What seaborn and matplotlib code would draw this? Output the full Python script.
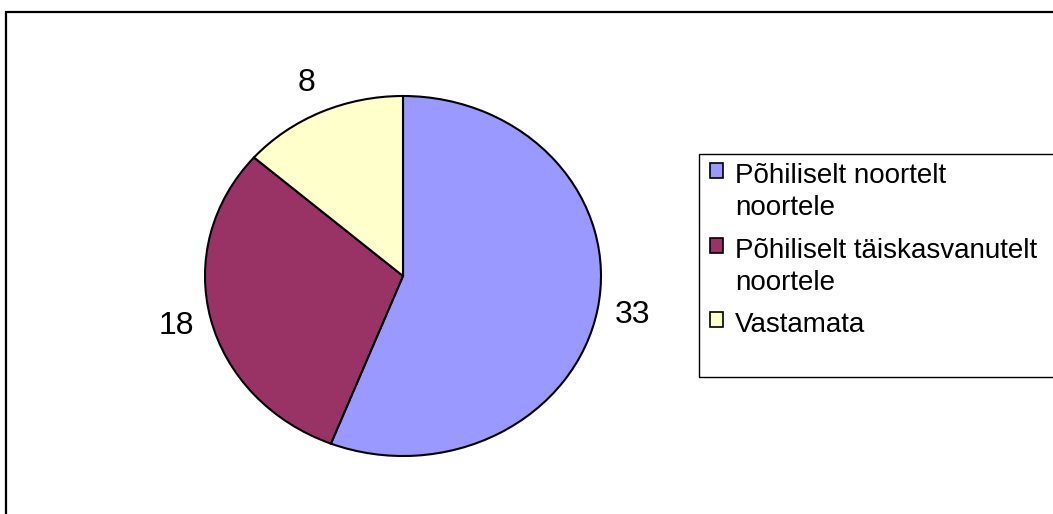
import matplotlib
matplotlib.use("Agg")
import matplotlib.pyplot as plt
from matplotlib.patches import Rectangle
from matplotlib.offsetbox import HPacker
import seaborn as sns

# answers, drawn clockwise from the top
categories = ["Põhiliselt noortelt\nnoortele",
              "Põhiliselt täiskasvanutelt\nnoortele",
              "Vastamata"]
values = [33, 18, 8]
colors = ["#9999FF", "#993366", "#FFFFCC"]

sns.set_theme(style="white")
plt.rcParams["font.family"] = ["Liberation Sans", "DejaVu Sans"]

W, H = 1053, 514
fig = plt.figure(figsize=(W / 100, H / 100), dpi=100)
fig.patch.set_facecolor("white")

# outer chart border (runs off the right and bottom of the picture)
fig.add_artist(Rectangle((6 / W, -0.2), 1.2, 1 - 12 / H + 0.2,
                         transform=fig.transFigure, fill=False,
                         edgecolor="black", linewidth=1.6))

# pie is stretched a little wider than tall, like the original
ax = fig.add_axes([205 / W, (H - 456) / H, 396 / W, 360 / H])
wedges, texts = ax.pie(values, labels=[str(v) for v in values],
                       colors=sns.color_palette(colors),
                       startangle=90, counterclock=False,
                       labeldistance=1.18,
                       wedgeprops=dict(edgecolor="black", linewidth=1.5),
                       textprops=dict(fontsize=23, ha="center", va="center",
                                      color="black"))
ax.set_aspect("auto")
ax.set_xlim(-1, 1)
ax.set_ylim(-1, 1)
ax.axis("off")

# legend box
fig.add_artist(Rectangle((699 / W, (H - 377) / H), (1060 - 699) / W, (377 - 154) / H,
                         transform=fig.transFigure, fill=False,
                         edgecolor="black", linewidth=1.0))

leg = fig.legend(wedges, categories, loc="upper left",
                 bbox_to_anchor=(710 / W, 1 - 163 / H),
                 frameon=False, fontsize=20, labelcolor="black",
                 borderpad=0, borderaxespad=0,
                 handlelength=0.46, handleheight=0.46, handletextpad=0.45,
                 labelspacing=0.6)
for t in leg.get_texts():
    t.set_linespacing(1.3)
# keep the colour square beside the first line of a two-line label
for box in leg.findobj(HPacker):
    box.align = "top"
for h in leg.legend_handles:
    h.set_linewidth(1.2)

fig.savefig("out.png", dpi=100, facecolor="white")
